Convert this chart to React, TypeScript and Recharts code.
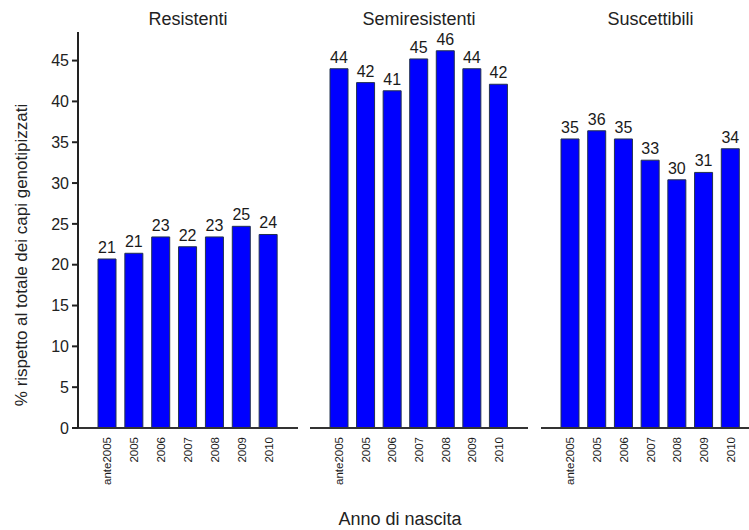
import { BarChart, Bar, XAxis, YAxis, LabelList } from "recharts";

const categories = ["ante2005", "2005", "2006", "2007", "2008", "2009", "2010"];
const resistenti = [20.7, 21.4, 23.4, 22.2, 23.4, 24.7, 23.7];
const semiresistenti = [44.0, 42.3, 41.3, 45.2, 46.2, 44.0, 42.1];
const suscettibili = [35.4, 36.4, 35.4, 32.8, 30.4, 31.3, 34.2];
const yTicks = [0, 5, 10, 15, 20, 25, 30, 35, 40, 45];

const FONT = "'Liberation Sans', Arial, sans-serif";
const H = 530;

const XTick = (props: any) => {
  const { x, y, payload } = props;
  return (
    <text
      x={x}
      y={y + 1}
      transform={`rotate(-90, ${x}, ${y + 1})`}
      textAnchor="end"
      dominantBaseline="central"
      fontSize={11.5}
      fontFamily={FONT}
      fill="#1a1a1a"
    >
      {payload.value}
    </text>
  );
};

function Panel({ title, values, left, width, showY }: any) {
  const data = categories.map((c, i) => ({ anno: c, v: values[i] }));
  const yw = showY ? 78 : 0;
  return (
    <div style={{ position: "absolute", left, top: 0, width, height: H }}>
      <div
        style={{
          position: "absolute",
          left: yw,
          width: width - yw,
          top: 9,
          textAlign: "center",
          fontSize: 18,
          color: "#222",
        }}
      >
        {title}
      </div>
      <BarChart
        width={width}
        height={H}
        data={data}
        margin={{ top: 32, right: 0, bottom: 32, left: 0 }}
      >
        <XAxis
          dataKey="anno"
          height={70}
          padding={{ left: 16, right: 16 }}
          stroke="#333"
          strokeWidth={2}
          tickLine={false}
          tick={<XTick />}
          interval={0}
        />
        <YAxis
          hide={!showY}
          width={yw}
          domain={[0, 48.5]}
          ticks={yTicks}
          interval={0}
          stroke="#222"
          strokeWidth={2}
          tickSize={6}
          tickMargin={3}
          tick={{ fill: "#222", fontSize: 16, fontFamily: FONT }}
        />
        <Bar
          dataKey="v"
          fill="#0000ff"
          stroke="#23324f"
          strokeWidth={1}
          barSize={18}
          isAnimationActive={false}
        >
          <LabelList
            dataKey="v"
            position="top"
            offset={6}
            formatter={(v: any) => Math.round(v)}
            style={{ fontSize: 16, fill: "#1a1a1a", fontFamily: FONT }}
          />
        </Bar>
      </BarChart>
    </div>
  );
}

export default function App() {
  return (
    <div
      style={{
        position: "absolute",
        left: 0,
        top: 0,
        width: 749,
        height: H,
        overflow: "hidden",
        background: "#fff",
        fontFamily: FONT,
      }}
    >
      <Panel title="Resistenti" values={resistenti} left={0} width={298} showY />
      <Panel title="Semiresistenti" values={semiresistenti} left={310} width={218} />
      <Panel title="Suscettibili" values={suscettibili} left={541} width={219} />
      <div
        style={{
          position: "absolute",
          left: 22,
          top: 255,
          transform: "translate(-50%, -50%) rotate(-90deg)",
          whiteSpace: "nowrap",
          fontSize: 17,
          color: "#222",
        }}
      >
        % rispetto al totale dei capi genotipizzati
      </div>
      <div
        style={{
          position: "absolute",
          left: 400,
          top: 509,
          transform: "translateX(-50%)",
          whiteSpace: "nowrap",
          fontSize: 18,
          color: "#222",
        }}
      >
        Anno di nascita
      </div>
    </div>
  );
}
